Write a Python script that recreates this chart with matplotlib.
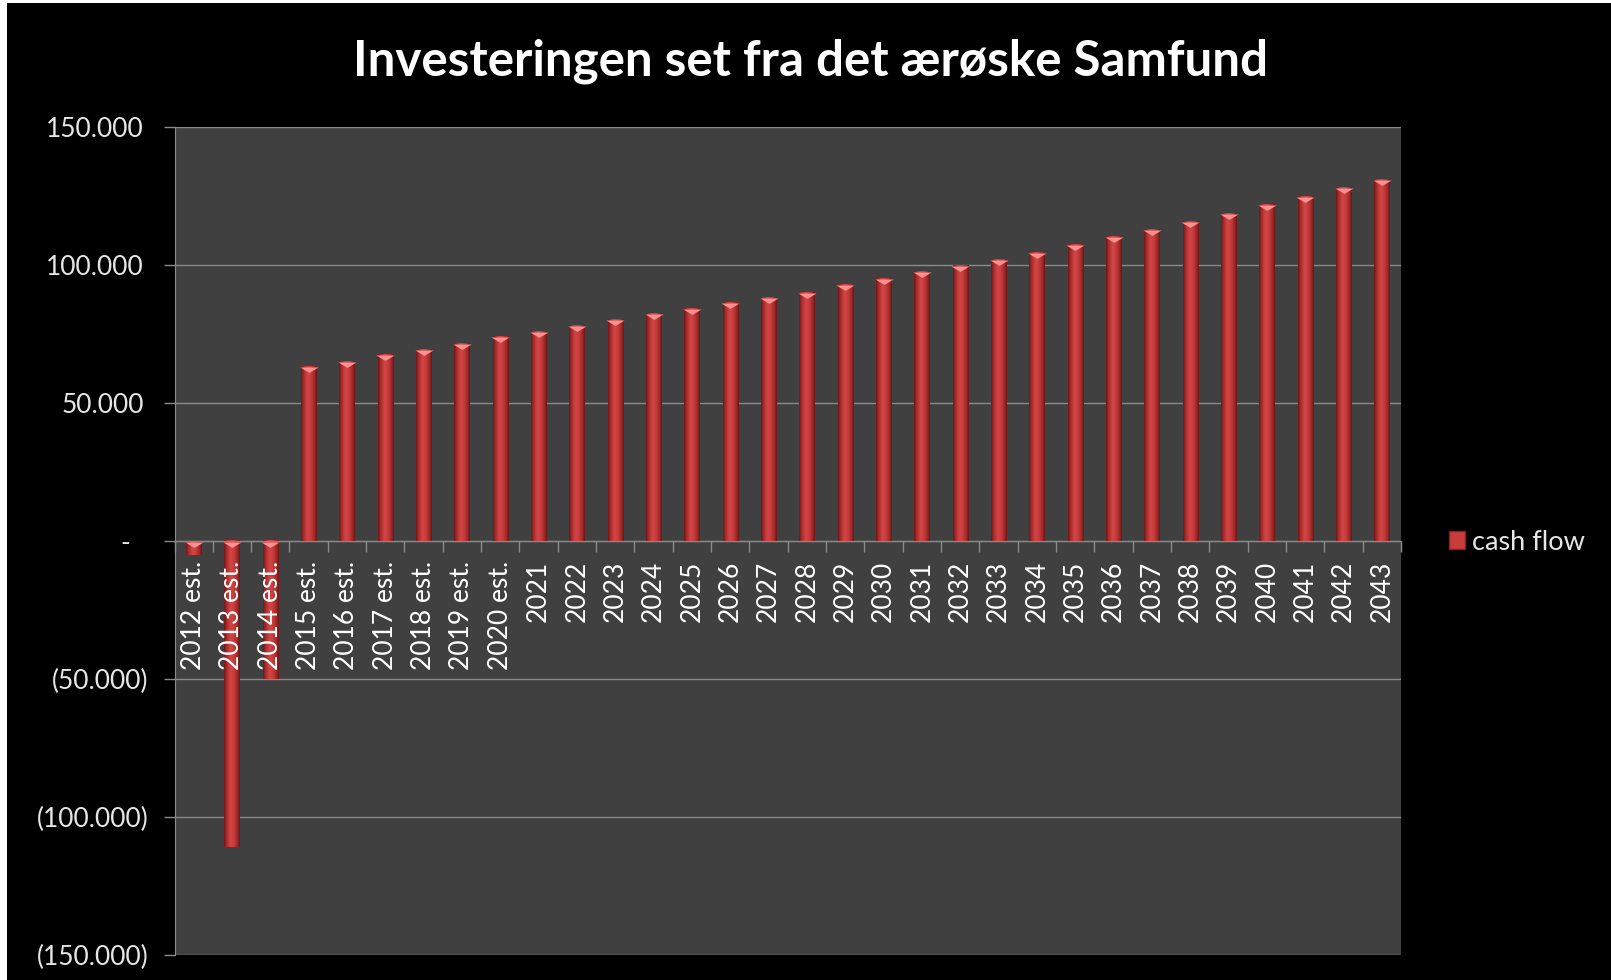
import matplotlib
matplotlib.use("Agg")
import matplotlib.pyplot as plt
import matplotlib.transforms as mtransforms
from matplotlib.colors import LinearSegmentedColormap
from matplotlib.patches import Patch, Rectangle
from matplotlib.ticker import FuncFormatter, FixedLocator
import numpy as np

plt.rcParams['font.family'] = ['Lato', 'DejaVu Sans']

title = "Investeringen set fra det ærøske Samfund"
series_name = "cash flow"
categories = ["2012 est.", "2013 est.", "2014 est.", "2015 est.", "2016 est.",
              "2017 est.", "2018 est.", "2019 est.", "2020 est.",
              "2021", "2022", "2023", "2024", "2025", "2026", "2027", "2028",
              "2029", "2030", "2031", "2032", "2033", "2034", "2035", "2036",
              "2037", "2038", "2039", "2040", "2041", "2042", "2043"]
cash_flow = [-5000, -111000, -50000, 63400, 65200, 67500, 69300, 71600, 74200,
             76000, 77900, 80100, 82400, 84200, 86500, 88300, 90200, 92800,
             95000, 97700, 99900, 102100, 104700, 107300, 110300, 112900,
             115900, 118800, 121800, 124800, 127900, 130900]
y_ticks = [-150000, -100000, -50000, 0, 50000, 100000, 150000]

W, H = 1611, 980
fig = plt.figure(figsize=(W / 100, H / 100), dpi=100)
fig.patch.set_facecolor('white')
# black chart area (white sliver on left/top as in reference)
fig.patches.append(Rectangle((7 / W, 0), 1, 1 - 3 / H, transform=fig.transFigure,
                             facecolor='black', edgecolor='none', zorder=-10))

left, right, top, bottom = 174.5, 1401, 127, 955
ax = fig.add_axes([left / W, 1 - bottom / H, (right - left) / W, (bottom - top) / H])
ax.set_zorder(1)
ax.set_facecolor('#404040')

n = len(categories)
x = np.arange(n)
width = 0.4

cmap = LinearSegmentedColormap.from_list(
    "cyl", [(0.0, '#6e1616'), (0.18, '#aa2f2f'), (0.42, '#d44646'),
            (0.6, '#ca3e3e'), (0.85, '#a02929'), (1.0, '#6a1414')])
grad = np.linspace(0, 1, 64).reshape(1, -1)

bars = ax.bar(x, cash_flow, width=width, color='#c03a3a', zorder=2, linewidth=0)
for xi, v in zip(x, cash_flow):
    lo, hi = (0, v) if v >= 0 else (v, 0)
    ax.imshow(grad, cmap=cmap, extent=[xi - width / 2, xi + width / 2, lo, hi],
              aspect='auto', zorder=3, interpolation='bicubic')

# flat highlight triangles at the top of each bar
tri = [(-1, 0), (1, 0), (0, -0.6), (-1, 0)]
tops = [max(v, 0) for v in cash_flow]
ax.scatter(x, tops, marker=tri, s=170, color='#ff9090', zorder=4, linewidths=0,
           transform=ax.transData + mtransforms.ScaledTranslation(0, -0.5 / 100, fig.dpi_scale_trans))

ax.set_xlim(-0.5, n - 0.5)
ax.set_ylim(-150000, 150000)

# grid
ax.set_yticks(y_ticks)
ax.yaxis.grid(True, color='#8a8a8a', linewidth=1.0)
ax.yaxis.set_zorder(0.5)
ax.xaxis.set_zorder(6)


def fmt(v, pos):
    if v == 0:
        return "-"
    s = f"{abs(int(v)):,}".replace(",", ".")
    return f"({s})" if v < 0 else s


ax.yaxis.set_major_formatter(FuncFormatter(fmt))
ax.tick_params(axis='y', direction='out', length=8, width=1, color='#8a8a8a',
               pad=10.5, labelsize=19, labelcolor='#e6e6e6')

# x axis at zero
ax.spines['bottom'].set_position(('data', 0))
ax.spines['bottom'].set_color('#8a8a8a')
ax.spines['bottom'].set_zorder(5)
ax.spines['left'].set_color('#8a8a8a')
ax.spines['top'].set_visible(False)
ax.spines['right'].set_visible(False)

ax.set_xticks(x)
ax.set_xticklabels(categories, rotation=90, va='top', ha='center')
ax.xaxis.set_minor_locator(FixedLocator(np.arange(n + 1) - 0.5))
ax.tick_params(axis='x', which='major', length=0, pad=14, labelsize=19,
               labelcolor='white')
ax.tick_params(axis='x', which='minor', direction='out', length=8, width=1,
               color='#8a8a8a')

fig.canvas.draw()
for lbl in ax.get_yticklabels():
    t = lbl.get_text()
    if t == "-":
        off = -19
    elif not t.startswith("("):
        off = -5
    else:
        off = 0
    lbl.set_transform(lbl.get_transform() + mtransforms.Affine2D().translate(off, 0))

fig.text(0.503, 1 - 61 / H, title, ha='center', va='center', fontsize=35.5,
         fontweight='bold', color='white')

handle = Patch(facecolor='#c83c3c', edgecolor='#8a1f1f')
fig.legend([handle], [series_name], loc='center left',
           bbox_to_anchor=(1449 / W, 1 - 542 / H), frameon=False,
           fontsize=19.5, labelcolor='#e6e6e6', handlelength=0.6,
           handleheight=0.6, handletextpad=0.25, borderpad=0, borderaxespad=0)

fig.savefig("out.png", dpi=100, facecolor=fig.get_facecolor())
